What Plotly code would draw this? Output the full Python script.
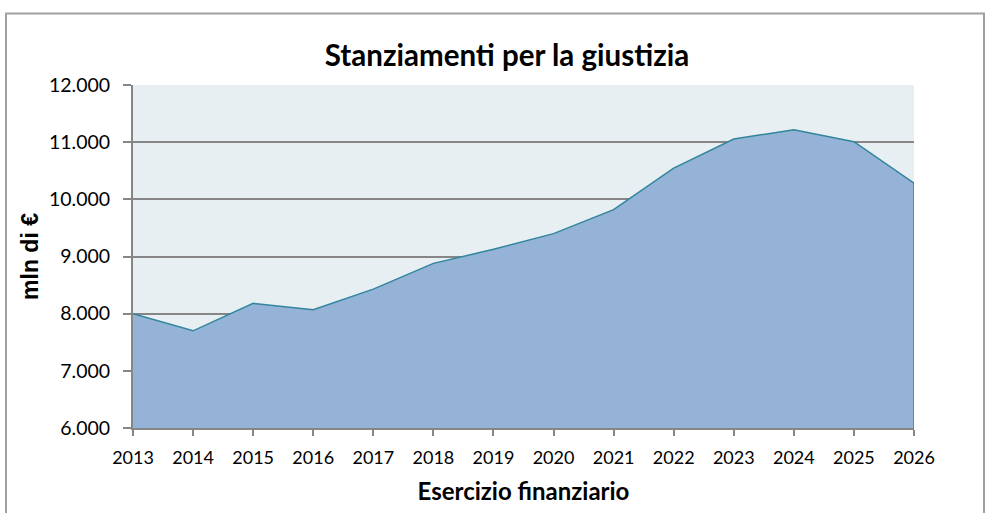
import plotly.graph_objects as go

years = [2013, 2014, 2015, 2016, 2017, 2018, 2019, 2020, 2021, 2022, 2023, 2024, 2025, 2026]
stanziamenti = [8000, 7700, 8180, 8070, 8430, 8880, 9125, 9400, 9820, 10545, 11055, 11217, 11009, 10284]
y_min, y_max, y_step = 6000, 12000, 1000

title_text = "Stanziamenti per la giustizia"
x_title = "Esercizio finanziario"
y_title = "mln di €"

W, H = 990, 513
L, R, T, B = 133, 76, 85, 83
pw = W - L - R
ph = H - T - B

FONT = "Lato, 'Open Sans', sans-serif"
LINE = "#31859C"

fig = go.Figure()
fig.add_trace(go.Scatter(
    x=years, y=stanziamenti, mode="lines",
    fill="tozeroy", fillcolor="#95B3D7",
    line=dict(color=LINE, width=1.5),
    hoverinfo="x+y", showlegend=False,
))
# closing edge of the area at the last year (as in the original area chart)
fig.add_trace(go.Scatter(
    x=[years[-1], years[-1]], y=[stanziamenti[-1], y_min], mode="lines",
    line=dict(color=LINE, width=1.5), hoverinfo="skip", showlegend=False,
))

fig.update_layout(
    width=W, height=H,
    margin=dict(l=L, r=R, t=T, b=B, pad=0),
    paper_bgcolor="white",
    plot_bgcolor="#E8EFF3",
    separators=",.",
    font=dict(family=FONT, color="black"),
    title=dict(text="<b>" + title_text + "</b>", x=507 / W, xanchor="center",
               y=1 - 56 / H, yanchor="middle", font=dict(size=29.5, family=FONT)),
    xaxis=dict(
        range=[years[0], years[-1]], tickmode="linear", tick0=years[0], dtick=1,
        showgrid=False, zeroline=False,
        showline=True, linecolor="#868686", linewidth=2,
        ticks="outside", ticklen=6, tickcolor="#868686", tickwidth=1.5,
        tickfont=dict(size=18, family=FONT), ticklabelstandoff=6,
        title=dict(text="<b>" + x_title + "</b>", font=dict(size=24, family=FONT), standoff=17),
    ),
    yaxis=dict(
        range=[y_min, y_max], dtick=y_step, tickformat=",d",
        showgrid=True, gridcolor="#868686", gridwidth=2,
        zeroline=False,
        showline=True, linecolor="#868686", linewidth=2,
        ticks="outside", ticklen=8, tickcolor="#868686", tickwidth=1.5,
        tickfont=dict(size=19.5, family=FONT), ticklabelstandoff=9,
        title=dict(text="<b>" + y_title + "</b>",
                   font=dict(size=23, family="Liberation Sans, Arial, sans-serif"), standoff=4),
    ),
    shapes=[dict(
        type="rect", xref="paper", yref="paper",
        x0=(6 - L) / pw, x1=(984 - L) / pw,
        y0=-(B + 20) / ph, y1=1 + (T - 13) / ph,
        line=dict(color="#A0A0A0", width=2), fillcolor="rgba(0,0,0,0)", layer="below",
    )],
)

fig.write_html("out.html", config={"displayModeBar": False},
               post_script="document.body.style.margin='0px';document.body.style.overflow='hidden';")
